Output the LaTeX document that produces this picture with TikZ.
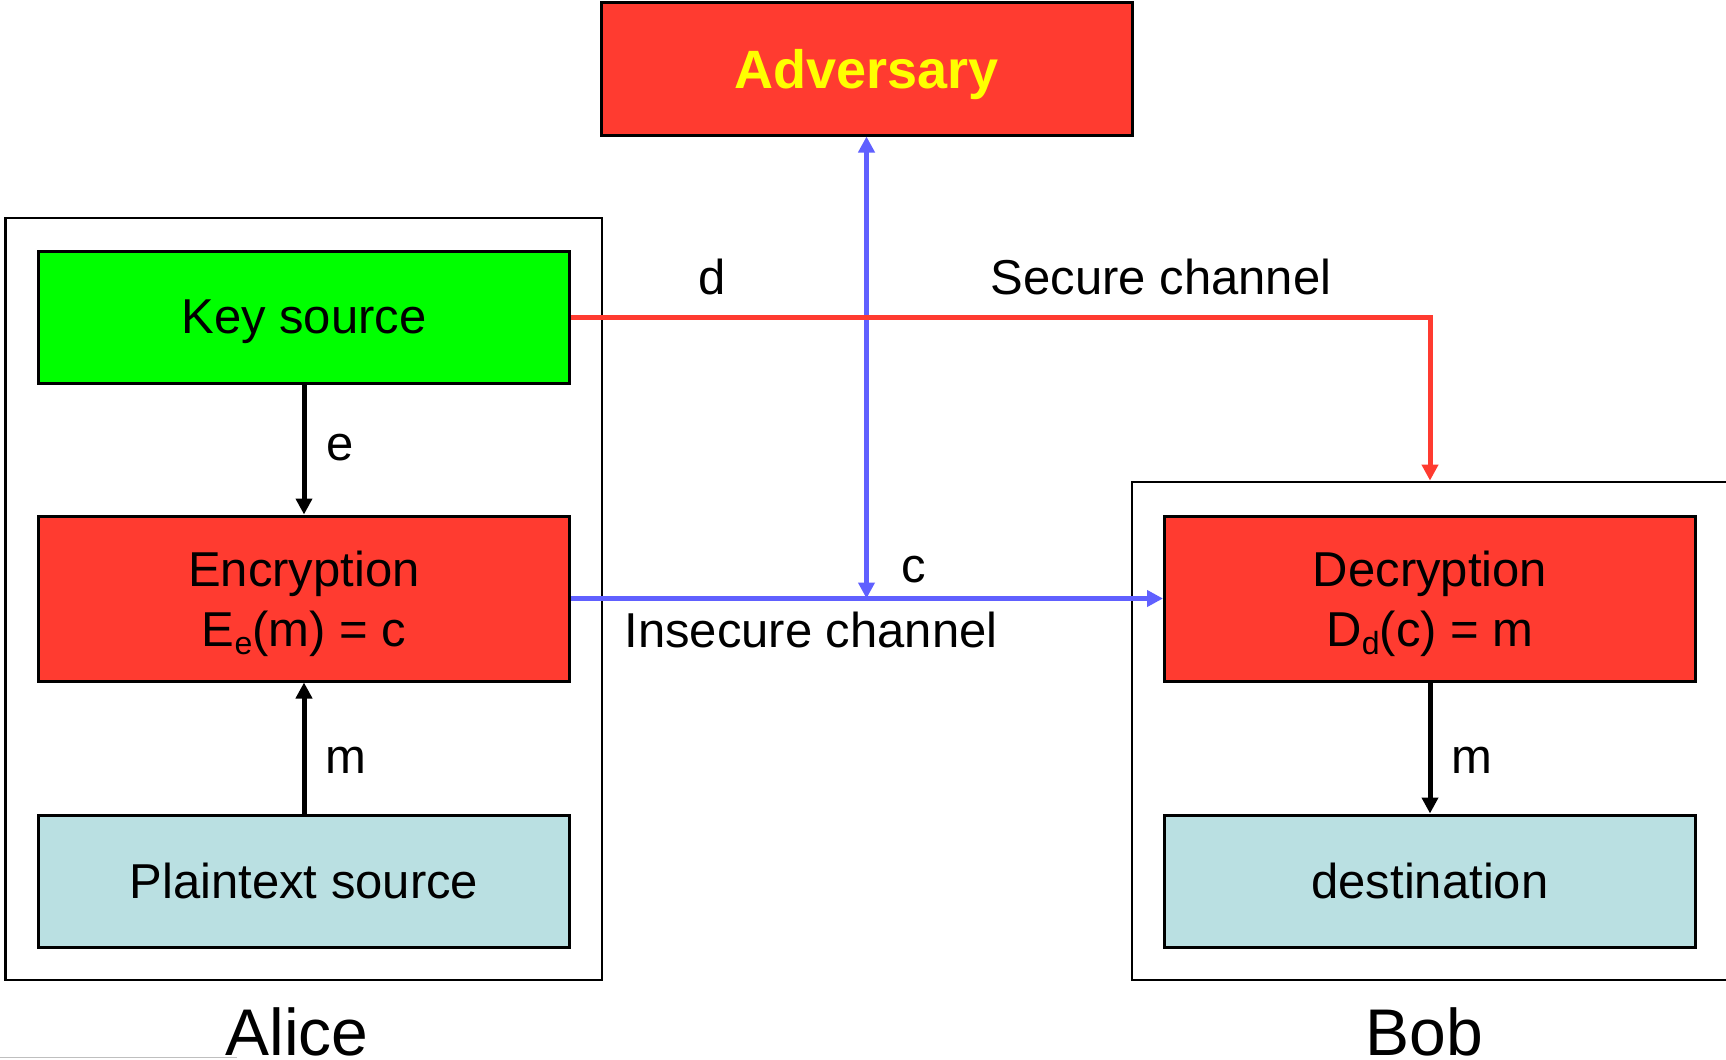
\documentclass[tikz,border=0pt]{standalone}
\usepackage{fontspec}
\setmainfont{Liberation Sans}
\usetikzlibrary{arrows.meta}

\definecolor{boxred}{RGB}{255,59,48}
\definecolor{keygreen}{RGB}{0,255,0}
\definecolor{paleblue}{RGB}{186,224,226}
\definecolor{chanblue}{RGB}{96,96,255}
\definecolor{advyellow}{RGB}{255,255,0}

\newcommand{\subl}[1]{\raisebox{-0.3ex}{\fontsize{16}{16}\selectfont #1}}

\begin{document}
\begin{tikzpicture}[x=0.5pt,y=-0.5pt,
  block/.style={draw=black, line width=1.5pt, minimum width=265.5pt,
    inner sep=0pt, align=center, text depth=0pt,
    font=\fontsize{24.5}{30}\selectfont},
  tallblock/.style={block, minimum height=82.5pt, text depth=-3pt},
  shortblock/.style={block, minimum height=66pt},
  party/.style={draw=black, line width=1.4pt, inner sep=0pt},
  flow/.style={line width=2.5pt, -{Triangle[length=8pt,width=8pt]}},
  lbl/.style={inner sep=0pt, font=\fontsize{24.5}{30}\selectfont},
  who/.style={inner sep=0pt, anchor=base, font=\fontsize{33}{40}\selectfont}]

\clip (0,0) rectangle (1726,1060);
\fill[white] (0,0) rectangle (1726,1060);

% the two parties
\node[party, minimum width=298.25pt, minimum height=381pt] (alice) at (303.75,599) {};
\node[party, minimum width=314pt, minimum height=249pt] (bob) at (1446,731) {};

% Alice's side
\node[shortblock, fill=keygreen] (key) at (304,317) {Key source};
\node[tallblock, fill=boxred] (enc) at (304,598.5) {Encryption\\E\subl{e}(m) = c};
\node[shortblock, fill=paleblue] (plain) at (304,881) {Plaintext source};

% Bob's side
\node[tallblock, fill=boxred] (dec) at (1430,598.5) {Decryption\\D\subl{d}(c) = m};
\node[shortblock, fill=paleblue] (dest) at (1430,881) {destination};

% the eavesdropper
\node[block, fill=boxred, minimum height=66.5pt, text=advyellow,
  font=\fontsize{27}{30}\selectfont\bfseries] (adv) at (866.5,68.5) {Adversary};

% local flows
\draw[flow] (key.south) -- (enc.north);
\draw[flow] (plain.north) -- (enc.south);
\draw[flow] (dec.south) -- (dest.north);

% ciphertext over the insecure channel, tapped by the adversary
\draw[flow, chanblue] (enc.east) -- (dec.west);
\coordinate (tap) at (adv.south |- enc.east);
\draw[line width=2.5pt, chanblue, {Triangle[length=8pt,width=8pt]}-{Triangle[length=8pt,width=8pt]}] (adv.south) -- (tap);

% key distribution over the secure channel
\draw[flow, boxred] (key.east) -| (dec.north |- bob.north);

% labels
\node[lbl, anchor=base west] (le) at (326,460) {e};
\node[lbl, anchor=base west] (lm1) at (325,773) {m};
\node[lbl, anchor=base west] (lm2) at (1451,773) {m};
\node[lbl, anchor=base] (ld) at (712,294) {d};
\node[lbl, anchor=base] (lsec) at (1161,294) {Secure channel};
\node[lbl, anchor=base] (lc) at (914,582) {c};
\node[lbl, anchor=base] (lins) at (811,647) {Insecure channel};

\node[who] (walice) at (297,1055) {Alice};
\node[who] (wbob) at (1424,1055) {Bob};

% thin rule along the lower left edge
\draw[line width=0.5pt, black!25] (0,1057) -- (237,1057);
\end{tikzpicture}
\end{document}
